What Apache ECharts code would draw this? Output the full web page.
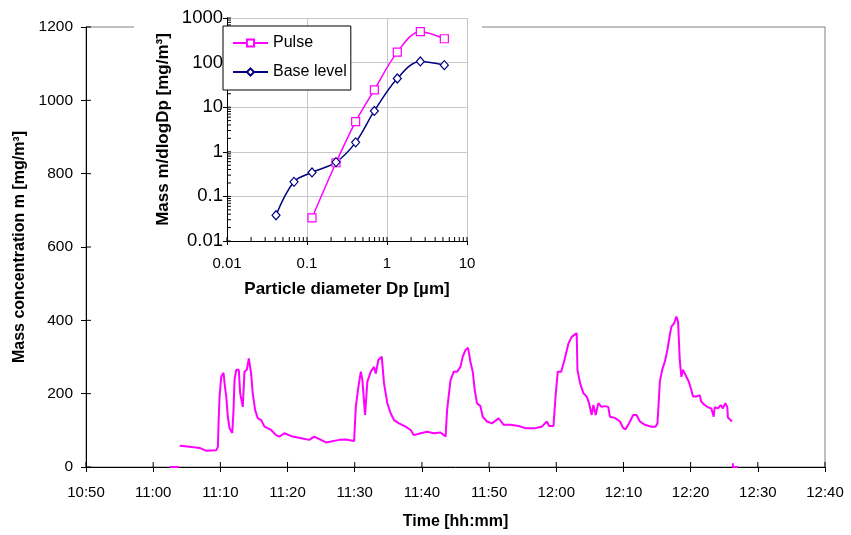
<!DOCTYPE html>
<html><head><meta charset="utf-8">
<script src="https://cdn.jsdelivr.net/npm/echarts@6/dist/echarts.min.js"></script>
<style>html,body{margin:0;padding:0;background:#fff}#c{width:851px;height:535px}</style>
</head><body><div id="c"></div>
<script>
// Main chart: time in minutes after 10:50, mass concentration in mg/m3
const timeMin = [
  13.95,15.43,16.91,17.91,19.39,19.63,19.73,19.88,20.13,20.47,
  20.62,20.88,21.11,21.36,21.77,21.96,22.11,22.36,22.74,22.95,
  23.34,23.59,23.93,24.23,24.48,24.58,24.82,25.18,25.56,26.07,
  26.56,27.55,28.29,28.78,29.53,30.76,32.24,33.23,33.98,34.97,
  35.71,37.69,38.68,39.91,
  40.16,40.55,40.91,41.14,41.54,41.88,42.39,42.88,43.13,43.52,
  44.02,44.36,44.85,45.36,45.85,46.59,47.58,48.32,48.81,49.81,
  50.79,51.78,52.77,53.52,
  53.75,54.26,54.75,55.24,55.74,56.08,56.48,56.87,57.22,57.57,
  57.86,58.2,58.71,59.05,59.69,60.43,61.42,62.17,63.16,64.39,
  65.39,66.87,67.85,68.59,68.95,69.58,
  69.93,70.22,70.73,71.22,71.81,72.3,73.04,73.15,73.55,74.04,
  74.53,74.88,75.27,75.52,75.86,76.26,76.75,77.25,77.74,77.99,
  78.72,79.48,79.97,80.31,80.71,81.45,81.94,82.45,83.19,84.17,
  84.77,85.06,
  85.27,85.42,85.76,86.16,86.54,86.9,87.14,87.54,87.88,88.13,
  88.38,88.62,88.87,89.36,89.72,90.1,90.36,90.85,91.35,91.59,
  92.09,92.58,93.07,93.43,93.58,94.07,94.47,94.81,95.15,95.45,
  95.55,95.94,96.14
];
const massConc = [
  58,55,52,44,46,55,120,192,246,257,
  229,192,137,106,93,155,237,265,265,201,
  164,260,265,296,296,255,201,155,133,128,
  110,101,87,83,92,83,78,74,83,74,
  67,74,75,71,
  164,219,260,237,142,233,260,273,255,292,
  301,228,174,146,128,119,110,101,87,92,
  96,92,94,83,
  155,237,260,260,273,301,319,325,287,260,
  210,174,166,137,124,119,133,115,115,112,
  106,106,110,124,112,112,
  201,260,260,292,337,355,365,265,228,201,
  192,174,142,169,142,174,164,166,164,137,
  134,124,106,103,115,142,142,124,115,110,
  110,119,
  183,233,265,287,319,360,383,392,410,396,
  292,246,265,246,233,210,192,192,196,178,
  169,163,160,137,163,160,169,160,174,164,
  135,128,124
];
const zeroTimeA = [12.46, 13.84];
const zeroConcA = [0, 0];
const zeroTimeB = [96.29, 96.29, 97.03];
const zeroConcB = [10, 0, 0];
const timeTickLabels = ['10:50','11:00','11:10','11:20','11:30','11:40','11:50','12:00','12:10','12:20','12:30','12:40'];
const concTickLabels = ['0','200','400','600','800','1000','1200'];

// Inset: size distribution
const pulseDiameter = [0.1155,0.2305,0.4055,0.695,1.346,2.61,5.21];
const pulseMass = [0.0329,0.568,4.74,24.5,172,493,343];
const baseDiameter = [0.041,0.0688,0.1155,0.2305,0.4055,0.695,1.346,2.61,5.21];
const baseMass = [0.0378,0.212,0.344,0.587,1.63,8.24,44,106,87.7];
const insetXTickLabels = ['0.01','0.1','1','10'];
const insetYTickLabels = ['0.01','0.1','1','10','100','1000'];

const FONT = 'Liberation Sans, Arial, sans-serif';
const zip = (a, b) => a.map((v, i) => [v, b[i]]);
const logTicks = (decades, last) => { const r = []; decades.forEach(d => { for (let k = 1; k <= 9; k++) r.push(+(d * k).toPrecision(6)); }); r.push(last); return r; };
const insetXMinor = logTicks([0.01, 0.1, 1], 10);
const insetYMinor = logTicks([0.01, 0.1, 1, 10, 100], 1000);
const mainXInner = timeTickLabels.map((_, i) => i * 10);
const mainYInner = concTickLabels.map((_, i) => i * 200);

// inner half of crossing ticks, placed through the axes' scales
function tickSeries(xi, yi, data, dx, dy, len) {
  return {
    type: 'custom', xAxisIndex: xi, yAxisIndex: yi, data: data, silent: true, clip: false, z: 7,
    renderItem: (params, api) => {
      const p = api.coord([api.value(0), api.value(1)]);
      return {type: 'line', shape: {x1: p[0], y1: p[1], x2: p[0] + dx * len, y2: p[1] + dy * len},
        style: {stroke: '#000', lineWidth: 1}};
    }
  };
}

const chart = echarts.init(document.getElementById('c'), null, {renderer: 'canvas'});
chart.setOption({
  animation: false,
  backgroundColor: '#fff',
  textStyle: {fontFamily: FONT},
  graphic: [{type: 'rect', shape: {x: 134, y: 0, width: 348, height: 300}, style: {fill: '#fff'}, z: 1}],
  grid: [
    {left: 86, top: 27, right: 26, bottom: 68, show: true, borderColor: '#808080', borderWidth: 1, backgroundColor: 'transparent'},
    {left: 227, top: 18, width: 240, height: 223, show: false}
  ],
  legend: {
    data: ['Pulse', 'Base level'],
    orient: 'vertical', left: 223, top: 26,
    backgroundColor: '#fff', borderColor: '#000', borderWidth: 1,
    padding: [9, 4, 10, 9], itemWidth: 35, itemHeight: 9, itemGap: 13,
    textStyle: {fontSize: 16, color: '#000', fontFamily: FONT}, z: 8
  },
  xAxis: [
    {type: 'value', gridIndex: 0, position: 'bottom', min: 0, max: 110, interval: 10,
      axisLine: {show: true, lineStyle: {color: '#000', width: 1}},
      axisTick: {show: true, inside: false, length: 5, lineStyle: {color: '#000'}},
      axisLabel: {fontSize: 15, color: '#000', margin: 18, fontFamily: FONT, formatter: v => timeTickLabels[Math.round(v / 10)]},
      splitLine: {show: false},
      name: 'Time [hh:mm]', nameLocation: 'middle', nameGap: 47,
      nameTextStyle: {fontSize: 16, fontWeight: 'bold', color: '#000', fontFamily: FONT}},
    {type: 'log', logBase: 10, gridIndex: 1, position: 'bottom', min: 0.01, max: 10, z: 5,
      axisLine: {show: true, lineStyle: {color: '#000'}},
      axisTick: {show: true, inside: false, length: 4, lineStyle: {color: '#000'}},
      axisLabel: {fontSize: 15, color: '#000', margin: 15, fontFamily: FONT, formatter: v => insetXTickLabels[Math.round(Math.log10(v)) + 2]},
      splitLine: {show: true, lineStyle: {color: '#c8c8c8', width: 1}},
      name: 'Particle diameter Dp [µm]', nameLocation: 'middle', nameGap: 40,
      nameTextStyle: {fontSize: 17, fontWeight: 'bold', color: '#000', fontFamily: FONT}}
  ],
  yAxis: [
    {type: 'value', gridIndex: 0, position: 'left', min: 0, max: 1200, interval: 200,
      axisLine: {show: true, lineStyle: {color: '#000', width: 1}},
      axisTick: {show: true, inside: false, length: 5, lineStyle: {color: '#000'}},
      axisLabel: {fontSize: 15.5, color: '#000', margin: 13, fontFamily: FONT, formatter: v => concTickLabels[Math.round(v / 200)]},
      splitLine: {show: false},
      name: 'Mass concentration m [mg/m³]', nameLocation: 'middle', nameGap: 54,
      nameTextStyle: {fontSize: 16, fontWeight: 'bold', color: '#000', fontFamily: FONT}},
    {type: 'log', logBase: 10, gridIndex: 1, position: 'left', min: 0.01, max: 1000, z: 5,
      axisLine: {show: true, lineStyle: {color: '#000'}},
      axisTick: {show: true, inside: false, length: 4, lineStyle: {color: '#000'}},
      axisLabel: {fontSize: 18.5, color: '#000', margin: 4, fontFamily: FONT, formatter: v => insetYTickLabels[Math.round(Math.log10(v)) + 2]},
      splitLine: {show: true, lineStyle: {color: '#c8c8c8', width: 1}},
      name: 'Mass m/dlogDp [mg/m³]', nameLocation: 'middle', nameGap: 55,
      nameTextStyle: {fontSize: 17, fontWeight: 'bold', color: '#000', fontFamily: FONT}}
  ],
  series: [
    {type: 'line', name: 'Main', xAxisIndex: 0, yAxisIndex: 0, data: zip(timeMin, massConc),
      showSymbol: false, lineStyle: {color: '#FF00FF', width: 2}, itemStyle: {color: '#FF00FF'}, z: 2},
    {type: 'line', name: 'ZeroA', xAxisIndex: 0, yAxisIndex: 0, data: zip(zeroTimeA, zeroConcA),
      showSymbol: false, lineStyle: {color: '#FF00FF', width: 2}, z: 3},
    {type: 'line', name: 'ZeroB', xAxisIndex: 0, yAxisIndex: 0, data: zip(zeroTimeB, zeroConcB),
      showSymbol: false, lineStyle: {color: '#FF00FF', width: 2}, z: 3},
    tickSeries(0, 0, mainXInner.map(v => [v, 0]), 0, -1, 5),
    tickSeries(0, 0, mainYInner.map(v => [0, v]), 1, 0, 5),
    tickSeries(1, 1, insetXMinor.map(v => [v, 0.01]), 0, -1, 4),
    tickSeries(1, 1, insetYMinor.map(v => [0.01, v]), 1, 0, 4),
    {type: 'line', name: 'Pulse', xAxisIndex: 1, yAxisIndex: 1, data: zip(pulseDiameter, pulseMass),
      smooth: 0.35, symbol: 'rect', symbolSize: 8,
      lineStyle: {color: '#FF00FF', width: 1.5},
      itemStyle: {color: '#fff', borderColor: '#FF00FF', borderWidth: 1.2}, z: 6},
    {type: 'line', name: 'Base level', xAxisIndex: 1, yAxisIndex: 1, data: zip(baseDiameter, baseMass),
      smooth: 0.35, symbol: 'diamond', symbolSize: [8, 9],
      lineStyle: {color: '#000080', width: 1.5},
      itemStyle: {color: '#fff', borderColor: '#000080', borderWidth: 1.2}, z: 6}
  ]
});
</script></body></html>
